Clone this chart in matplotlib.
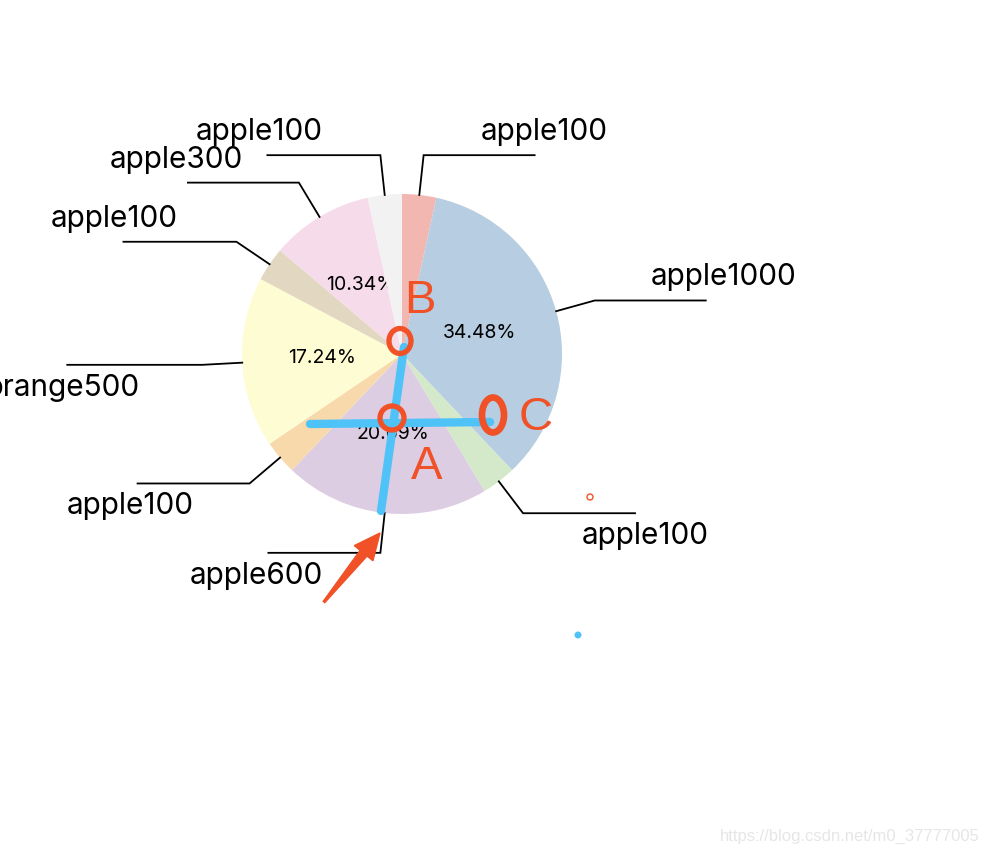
import matplotlib
matplotlib.use("Agg")
import matplotlib.pyplot as plt
import numpy as np
from matplotlib.patches import Ellipse, Circle, Polygon

# ---- data ----
labels = ["apple100", "apple1000", "apple100", "apple600", "apple100",
          "orange500", "apple100", "apple300", "apple100"]
values = [100, 1000, 100, 600, 100, 500, 100, 300, 100]
colors = ["#f2b7b1", "#b7cde1", "#d3e9c9", "#dccde3", "#f8d9ac",
          "#fefcd2", "#e2d8c1", "#f6dbea", "#f2f2f2"]
# horizontal length of each leader line (px) and label gap
line_len = [111, 111, 112, 112, 112, 135, 113, 111, 113]
text_gap = [54, 55, 53, 55, 56, 72, 54, 55, 55]

W, H = 990, 856
fig = plt.figure(figsize=(W / 100, H / 100), dpi=100)
ax = fig.add_axes([0, 0, 1, 1])

def Y(y):
    return H - y

FONT = "Inter"
cx, cy, R = 402, Y(354), 160

def pct(p):
    return f"{p:.2f}%" if p > 5 else ""

wedges, _, autotexts = ax.pie(values, colors=colors, startangle=90, counterclock=False,
                              center=(cx, cy), radius=R, autopct=pct, pctdistance=0.5,
                              wedgeprops=dict(linewidth=0),
                              textprops=dict(fontsize=14, family=FONT, color="black"))
ax.set_xlim(0, W)
ax.set_ylim(0, H)
ax.set_aspect("equal")
ax.axis("off")

for i, (w, t) in enumerate(zip(wedges, autotexts)):
    w.set_zorder(1 + 0.1 * i)
    t.set_zorder(1.05 + 0.1 * i)

for w, lab, L, g in zip(wedges, labels, line_len, text_gap):
    mid = np.deg2rad((w.theta1 + w.theta2) / 2)
    x0, y0 = cx + R * np.cos(mid), cy + R * np.sin(mid)
    x1, y1 = cx + 1.25 * R * np.cos(mid), cy + 1.25 * R * np.sin(mid)
    right = np.cos(mid) >= 0
    x2 = x1 + L if right else x1 - L
    ax.plot([x0, x1, x2], [y0, y1, y1], color="black", lw=1.3, solid_joinstyle="miter", zorder=3)
    ty = y1 + 23 if y1 > cy else y1 - 23
    if right:
        ax.text(x2 - g, ty, lab, ha="left", va="center", fontsize=21.4, family=FONT)
    else:
        ax.text(x2 + g, ty, lab, ha="right", va="center", fontsize=21.4, family=FONT)

# ---- hand-drawn overlay annotations ----
blue = "#4fc3f7"
orange = "#f05127"
ax.plot([381, 404], [Y(511), Y(347)], color=blue, lw=6, solid_capstyle="round", zorder=5)
ax.plot([310, 490], [Y(424), Y(422)], color=blue, lw=6, solid_capstyle="round", zorder=5)
ax.add_patch(Ellipse((400, Y(341)), 22, 25, fill=False, ec=orange, lw=3.8, zorder=6))
ax.add_patch(Ellipse((392, Y(418)), 24, 24, fill=False, ec=orange, lw=3.8, zorder=6))
ax.add_patch(Ellipse((493, Y(415)), 22, 35, fill=False, ec=orange, lw=4.8, zorder=6))
for t, x, y in [("B", 420, 301), ("A", 427, 467), ("C", 536, 418)]:
    ax.text(x, Y(y), t, ha="center", va="center", fontsize=34, family="Liberation Sans",
            color=orange, zorder=6)
# arrow
tail = np.array([324, Y(602)])
head = np.array([380, Y(533)])
d = head - tail
d = d / np.linalg.norm(d)
n = np.array([-d[1], d[0]])
base = head - d * 26
pts = [tail + n * 1, base + n * 4.5, base + n * 12, head, base - n * 12, base - n * 4.5, tail - n * 1]
ax.add_patch(Polygon(pts, closed=True, fc=orange, ec=orange, lw=1, zorder=6))
ax.add_patch(Circle((590, Y(497)), 3, fill=False, ec=orange, lw=1, zorder=6))
ax.add_patch(Circle((578, Y(635)), 3.5, fc=blue, ec="none", zorder=6))

# watermark
ax.text(980, Y(836), "https://blog.csdn.net/m0_37777005", ha="right", va="center",
        fontsize=12, family="Liberation Sans", color="#e6e6e6")

fig.savefig("out.png", dpi=100)
